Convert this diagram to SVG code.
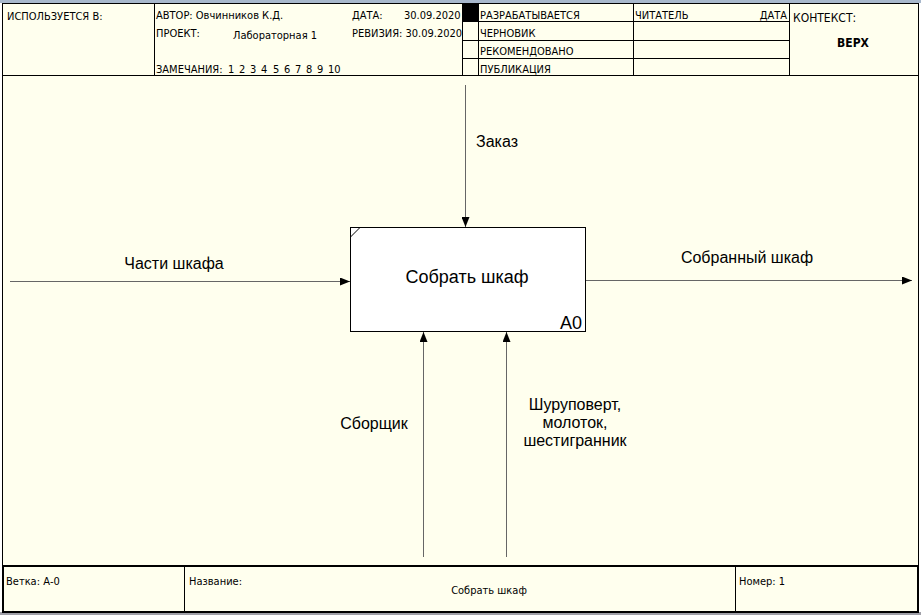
<svg xmlns="http://www.w3.org/2000/svg" width="921" height="615" viewBox="0 0 921 615">
<defs>
<style>
.frame{fill:none;stroke:#000;stroke-width:1}
.thick{fill:none;stroke:#000;stroke-width:2}
.hdr{font-family:"DejaVu Sans Condensed","DejaVu Sans",sans-serif;font-size:11px;fill:#000}
.lbl{font-family:"Liberation Sans",Arial,sans-serif;font-size:16px;fill:#000;text-anchor:middle}
.conn{fill:none;stroke:#666;stroke-width:1}
</style>
<marker id="arr" viewBox="0 0 10 8" refX="10" refY="4" markerWidth="10" markerHeight="8" markerUnits="userSpaceOnUse" orient="auto">
<path d="M0,0 L10,4 L0,8 z" fill="#000"/>
</marker>
</defs>
<rect x="0" y="0" width="921" height="615" fill="#fff"/>
<rect x="0" y="0" width="921" height="3" fill="#a8b8cc"/>
<rect x="2" y="3" width="917" height="609" fill="#ffffee"/>
<rect x="0" y="612" width="921" height="3" fill="#a0a0a8"/>
<g id="border">
<line class="frame" x1="2.5" y1="75" x2="2.5" y2="566"/>
<line class="frame" x1="918.5" y1="75" x2="918.5" y2="566"/>
</g>
<g id="header">
<rect class="frame" x="2.5" y="3.5" width="916" height="72"/>
<line class="frame" x1="154.5" y1="3.5" x2="154.5" y2="75.5"/>
<line class="frame" x1="462.5" y1="3.5" x2="462.5" y2="75.5"/>
<line class="frame" x1="478.5" y1="3.5" x2="478.5" y2="75.5"/>
<line class="frame" x1="633.5" y1="3.5" x2="633.5" y2="75.5"/>
<line class="frame" x1="789.5" y1="3.5" x2="789.5" y2="75.5"/>
<line class="frame" x1="462.5" y1="21.5" x2="789.5" y2="21.5"/>
<line class="frame" x1="462.5" y1="40.5" x2="789.5" y2="40.5"/>
<line class="frame" x1="462.5" y1="58.5" x2="789.5" y2="58.5"/>
<rect x="462" y="3" width="17" height="19" fill="#000"/>
<text class="hdr" x="7" y="20">ИСПОЛЬЗУЕТСЯ В:</text>
<text class="hdr" x="156" y="19">АВТОР: Овчинников К.Д.</text>
<text class="hdr" x="156" y="37">ПРОЕКТ:</text>
<text class="hdr" x="233" y="39">Лабораторная 1</text>
<text class="hdr" x="156" y="73">ЗАМЕЧАНИЯ:</text>
<text class="hdr" y="73"><tspan x="228">1</tspan><tspan x="239">2</tspan><tspan x="250">3</tspan><tspan x="261">4</tspan><tspan x="273">5</tspan><tspan x="284">6</tspan><tspan x="295">7</tspan><tspan x="306">8</tspan><tspan x="317">9</tspan><tspan x="328">10</tspan></text>
<text class="hdr" x="352" y="19">ДАТА:</text>
<text class="hdr" x="404" y="19">30.09.2020</text>
<text class="hdr" x="352" y="37">РЕВИЗИЯ: 30.09.2020</text>
<text class="hdr" x="480" y="19">РАЗРАБАТЫВАЕТСЯ</text>
<text class="hdr" x="480" y="37">ЧЕРНОВИК</text>
<text class="hdr" x="480" y="55">РЕКОМЕНДОВАНО</text>
<text class="hdr" x="480" y="73">ПУБЛИКАЦИЯ</text>
<text class="hdr" x="635" y="19">ЧИТАТЕЛЬ</text>
<text class="hdr" x="787" y="19" text-anchor="end">ДАТА</text>
<text class="hdr" x="793" y="22" style="font-size:12px">КОНТЕКСТ:</text>
<text class="hdr" x="853" y="47" text-anchor="middle" style="font-size:12px;font-weight:bold">ВЕРХ</text>
</g>
<g id="footer">
<rect class="thick" x="3" y="566" width="915" height="46"/>
<line class="frame" x1="184.5" y1="566" x2="184.5" y2="612"/>
<line class="frame" x1="735.5" y1="566" x2="735.5" y2="612"/>
<text class="hdr" x="6" y="585">Ветка: А-0</text>
<text class="hdr" x="189" y="585">Название:</text>
<text class="hdr" x="489" y="594" text-anchor="middle">Собрать шкаф</text>
<text class="hdr" x="739" y="585">Номер: 1</text>
</g>
<g id="A0">
<rect x="350.5" y="227.5" width="235" height="104" fill="#fff" stroke="#000" stroke-width="1"/>
<line x1="350.5" y1="237" x2="360" y2="227.5" stroke="#000" stroke-width="1"/>
<text x="467" y="283" style="font-family:'Liberation Sans',Arial,sans-serif;font-size:18px" text-anchor="middle">Собрать шкаф</text>
<text x="582" y="329" style="font-family:'Liberation Sans',Arial,sans-serif;font-size:18px" text-anchor="end">A0</text>
</g>
<g id="connectors">
<line class="conn" x1="10" y1="281.5" x2="350" y2="281.5" marker-end="url(#arr)"/>
<line class="conn" x1="586" y1="280.5" x2="912" y2="280.5" marker-end="url(#arr)"/>
<line class="conn" x1="465.5" y1="85" x2="465.5" y2="227" marker-end="url(#arr)"/>
<line class="conn" x1="423.5" y1="557" x2="423.5" y2="332" marker-end="url(#arr)"/>
<line class="conn" x1="506.5" y1="557" x2="506.5" y2="332" marker-end="url(#arr)"/>
</g>
<g id="labels">
<text class="lbl" x="174" y="269">Части шкафа</text>
<text class="lbl" x="747" y="263">Собранный шкаф</text>
<text class="lbl" x="497" y="147">Заказ</text>
<text class="lbl" x="374" y="429">Сборщик</text>
<text class="lbl" x="575" y="410">Шуруповерт,</text>
<text class="lbl" x="575" y="428">молоток,</text>
<text class="lbl" x="575" y="446">шестигранник</text>
</g>
</svg>
